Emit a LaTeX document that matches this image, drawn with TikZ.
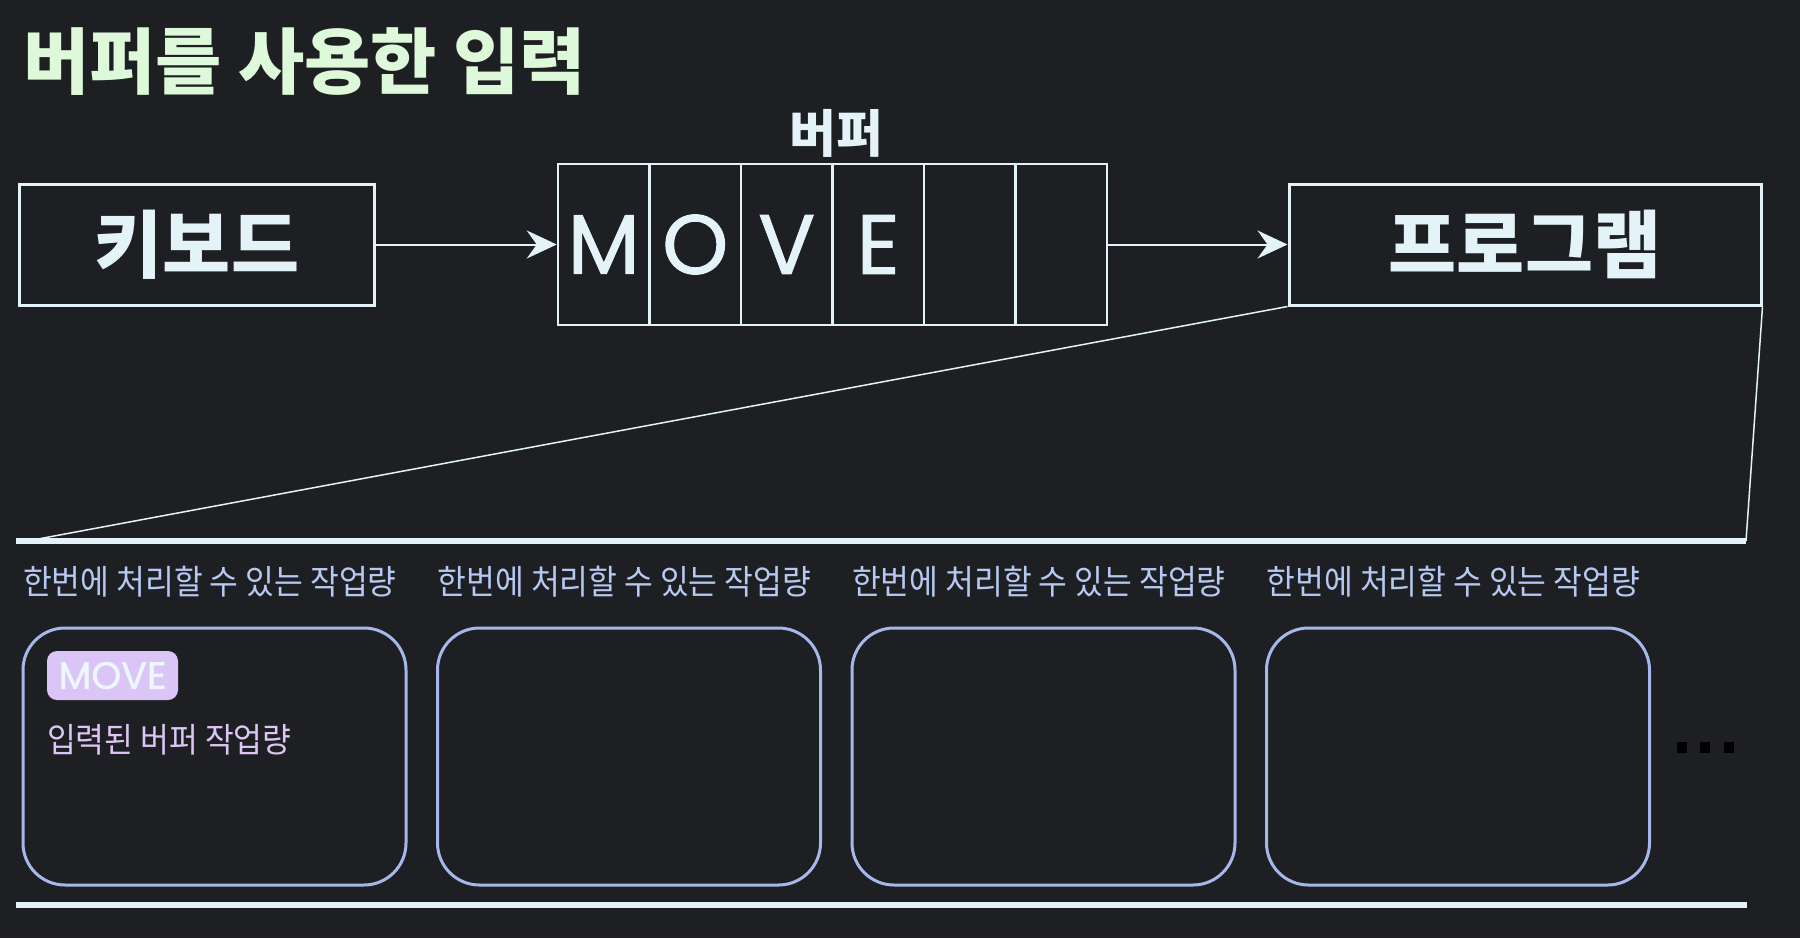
\documentclass[tikz,border=0pt]{standalone}
\usepackage{fontspec}
\usepackage{xcolor}
\usepackage{tikz}
\usetikzlibrary{arrows.meta}
\newfontfamily\krbig{Noto Sans CJK KR}
\newfontfamily\krsmall[FakeStretch=0.92]{Noto Sans CJK KR}
\newfontfamily\latinf[FakeBold=1.2]{Poppins}
\definecolor{bgc}{HTML}{1E1F22}
\definecolor{linec}{HTML}{E3F3F7}
\definecolor{titlec}{HTML}{DDF9D9}
\definecolor{labc}{HTML}{B6C9F2}
\definecolor{rboxc}{HTML}{A6B7EC}
\definecolor{tagc}{HTML}{DBC5F6}
\definecolor{tagtext}{HTML}{EDF7FF}
\definecolor{notec}{HTML}{DCC6F5}

\begin{document}
\begin{tikzpicture}[x=1pt, y=-1pt,
  box/.style={draw=linec, line width=3pt, minimum width=355pt, minimum height=121pt, text=linec, font=\krbig\bfseries\fontsize{74}{80}\selectfont},
  cell/.style={draw=linec, line width=2.5pt, minimum width=91.5pt, minimum height=161pt, inner sep=0pt, text=linec, font=\latinf\fontsize{84}{90}\selectfont},
  arr/.style={-{Stealth[length=30pt, width=28pt, inset=10pt]}, line width=2pt, draw=linec, fill=linec},
  slot/.style={draw=rboxc, line width=3pt, rounded corners=42pt, minimum width=383pt, minimum height=257pt},
  slotlabel/.style={anchor=west, inner sep=0pt, text=labc, font=\krsmall\fontsize{34}{40}\selectfont},
  rule/.style={draw=linec, line width=6pt}
]
  \useasboundingbox (0,0) rectangle (1800,938);
  \fill[bgc] (0,0) rectangle (1800,938);

  \node[anchor=west, inner sep=0pt, text=titlec, font=\krbig\bfseries\fontsize{72}{76}\selectfont] (title) at (23,62) {버퍼를 사용한 입력};

  \node[box] (kbd) at (197,244.5) {키보드};
  \node[box, minimum width=472pt] (prog) at (1525,244.5) {프로그램};

  \foreach \ch [count=\i] in {M,O,V,E,{},{}}
    \node[cell] (c\i) at ({558+91.5*(\i-0.5)},244.5) {\ch};
  \node[text=linec, font=\krbig\bfseries\fontsize{51}{55}\selectfont] (buflab) at (836,133) {버퍼};

  \draw[arr] (kbd) -- (c1);
  \draw[arr] (c6) -- (prog);

  \coordinate (tl) at (16,541);
  \coordinate (tr) at (1746,541);
  \coordinate (fl) at (38,539);
  \coordinate (bl) at (16,905);
  \coordinate (br) at (1747,905);
  \draw[linec, line width=1.5pt] (prog.south west) -- (fl);
  \draw[linec, line width=1.5pt] (prog.south east) -- (tr);
  \draw[rule] (tl) -- (tr);
  \draw[rule] (bl) -- (br);

  \foreach \i in {0,...,3} {
    \node[slotlabel] (lab\i) at ({23+414.5*\i},582) {한번에 처리할 수 있는 작업량};
    \node[slot] (slot\i) at ({214.5+414.5*\i},756.5) {};
  }

  \node[fill=tagc, rounded corners=10pt, minimum width=131pt, minimum height=49pt, inner sep=0pt, text=tagtext, font=\latinf\fontsize{38}{40}\selectfont] (tag) at (112.5,675.5) {MOVE};
  \node[anchor=west, inner sep=0pt, text=notec, font=\krsmall\fontsize{34}{40}\selectfont] (note) at (47,740) {입력된 버퍼 작업량};

  \foreach \x in {1677,1700,1724}
    \fill[black] (\x,742) rectangle ++(10,11);
\end{tikzpicture}
\end{document}
